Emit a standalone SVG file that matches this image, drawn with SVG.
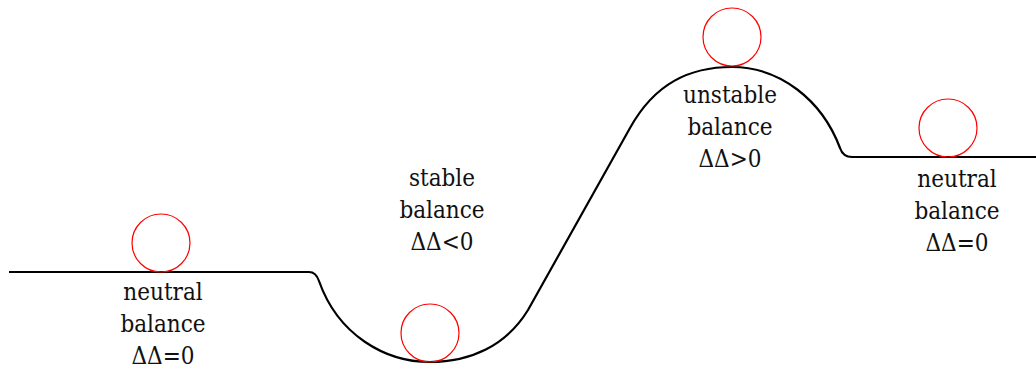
<svg xmlns="http://www.w3.org/2000/svg" width="1036" height="369" viewBox="0 0 1036 369">
<style>
.track{fill:none;stroke:#000;stroke-width:2.2;stroke-linejoin:round}
.ball{fill:none;stroke:#f00;stroke-width:1.2}
.lbl{font-family:"DejaVu Serif Condensed","DejaVu Serif",serif;font-stretch:condensed;font-size:24px;fill:#111;text-anchor:middle}
</style>
<rect width="1036" height="369" fill="#fff"/>
<g id="connectors">
<path class="track" d="M9,272 H309 Q316,272 319,281 C338,335 385,362 430,362 C470,362 506,346 528,310 L630,128 C655,83 690,67 732,67 C780,67 822,100 840,148 Q843,157 852,157 H1036"/>
</g>
<g id="neutral-left">
<circle class="ball" cx="161" cy="243" r="29"/>
<text class="lbl" x="163" y="300">neutral</text>
<text class="lbl" x="163" y="332">balance</text>
<text class="lbl" x="163" y="364">ΔΔ=0</text>
</g>
<g id="stable">
<circle class="ball" cx="430" cy="333" r="29"/>
<text class="lbl" x="442" y="186">stable</text>
<text class="lbl" x="442" y="218">balance</text>
<text class="lbl" x="442" y="250">ΔΔ&lt;0</text>
</g>
<g id="unstable">
<circle class="ball" cx="732" cy="37" r="29"/>
<text class="lbl" x="730" y="103">unstable</text>
<text class="lbl" x="730" y="135">balance</text>
<text class="lbl" x="730" y="167">ΔΔ&gt;0</text>
</g>
<g id="neutral-right">
<circle class="ball" cx="948" cy="128" r="29"/>
<text class="lbl" x="957" y="187">neutral</text>
<text class="lbl" x="957" y="219">balance</text>
<text class="lbl" x="957" y="251">ΔΔ=0</text>
</g>
</svg>
